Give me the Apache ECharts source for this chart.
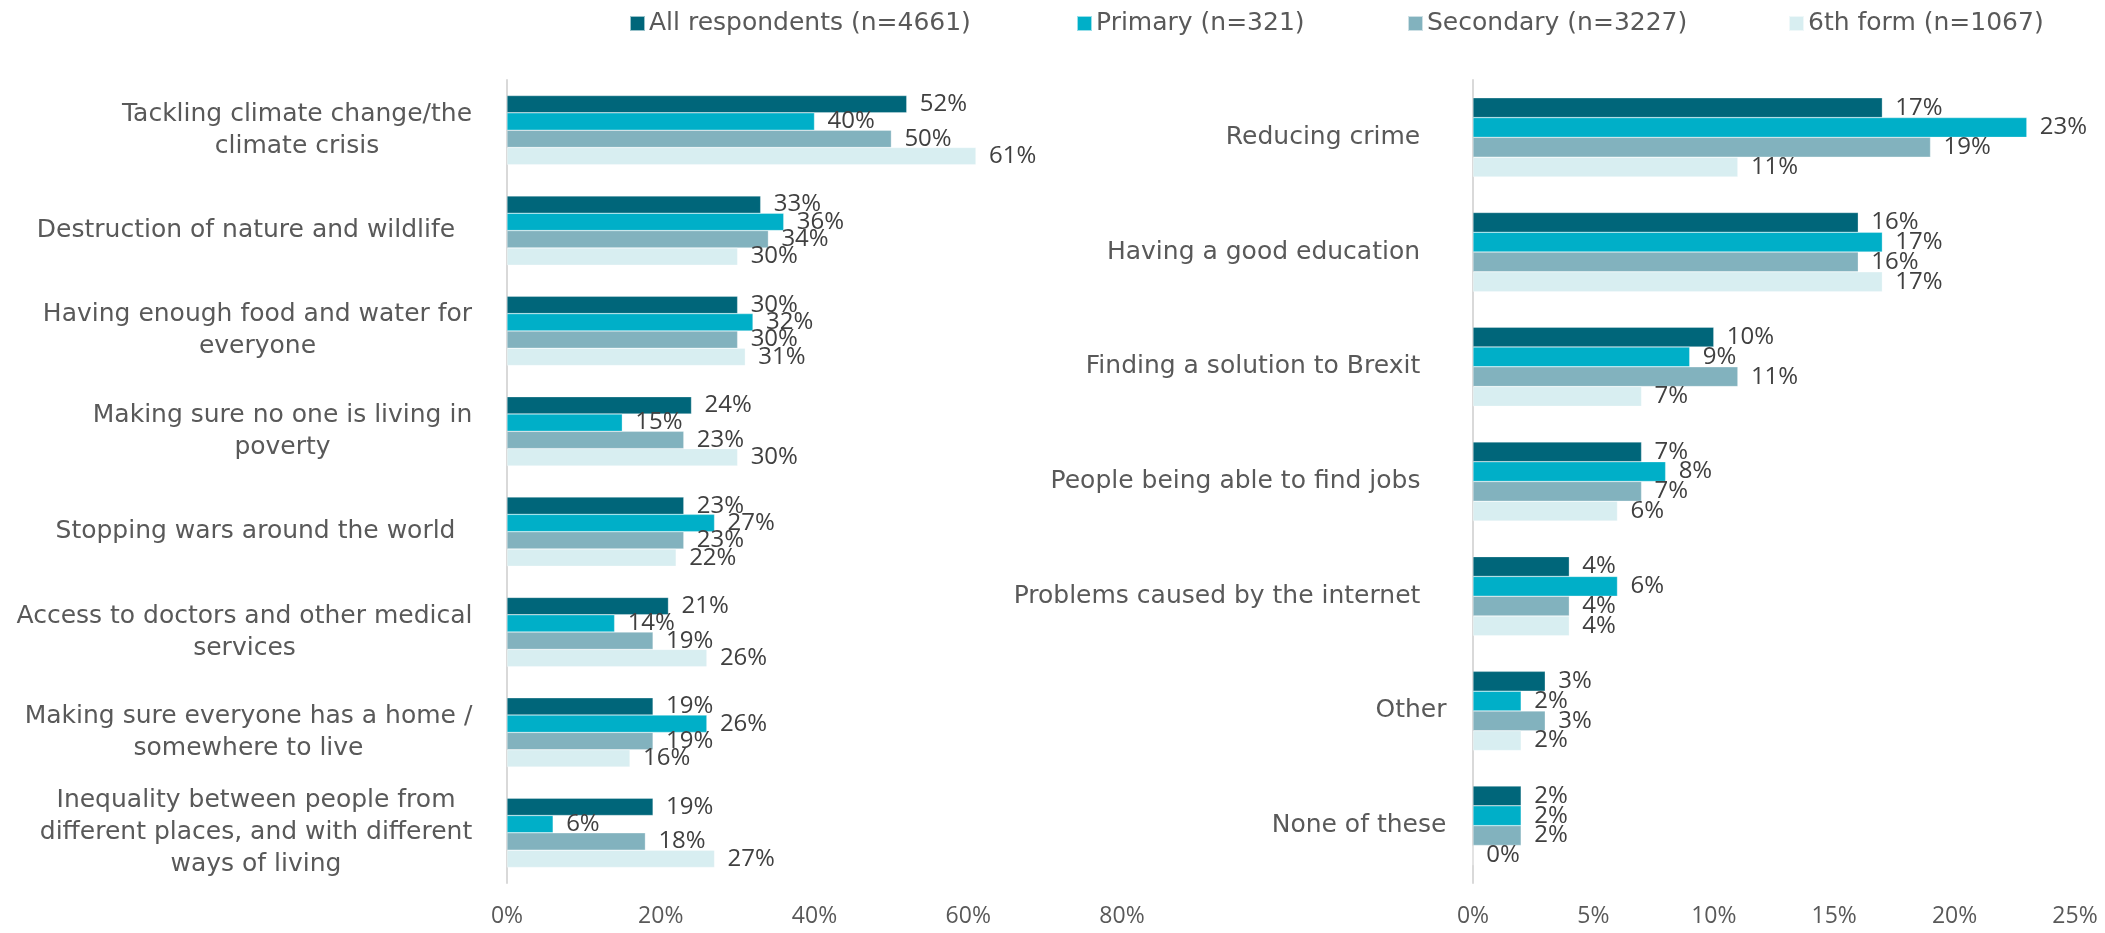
<!DOCTYPE html>
<html>
<head>
<meta charset="utf-8">
<script src="https://cdn.jsdelivr.net/npm/echarts@6/dist/echarts.min.js"></script>
<style>
  html, body { margin: 0; padding: 0; background: #fff; }
  #chart { width: 2105px; height: 933px; }
</style>
</head>
<body>
<div id="chart"></div>
<script>
// series names
const seriesNames = ['All respondents (n=4661)', 'Primary (n=321)', 'Secondary (n=3227)', '6th form (n=1067)']

// left panel
const leftCategories = [
  'Tackling climate change/the\nclimate crisis',
  'Destruction of nature and wildlife',
  'Having enough food and water for\neveryone',
  'Making sure no one is living in\npoverty',
  'Stopping wars around the world',
  'Access to doctors and other medical\nservices',
  'Making sure everyone has a home /\nsomewhere to live',
  'Inequality between people from\ndifferent places, and with different\nways of living'
]
const leftAll = [52, 33, 30, 24, 23, 21, 19, 19]
const leftPrimary = [40, 36, 32, 15, 27, 14, 26, 6]
const leftSecondary = [50, 34, 30, 23, 23, 19, 19, 18]
const leftSixth = [61, 30, 31, 30, 22, 26, 16, 27]
const leftTicks = [0, 20, 40, 60, 80]

// right panel
const rightCategories = [
  'Reducing crime',
  'Having a good education',
  'Finding a solution to Brexit',
  'People being able to find jobs',
  'Problems caused by the internet',
  'Other',
  'None of these'
]
const rightAll = [17, 16, 10, 7, 4, 3, 2]
const rightPrimary = [23, 17, 9, 8, 6, 2, 2]
const rightSecondary = [19, 16, 11, 7, 4, 3, 2]
const rightSixth = [11, 17, 7, 6, 4, 2, 0]
const rightTicks = [0, 5, 10, 15, 20, 25]

// styling
const colors = ['#00667a', '#00afc8', '#82b2be', '#d8eef1']
const FONT = 'DejaVu Sans'
const NUMFONT = 'Open Sans'
const FS = 25
const leftGaps = [0, 17, 0, 0, 17, 0, 0, 0]
const rightGaps = [0, 0, 0, 0, 0, -26, -26]

let ctx = document.createElement('canvas').getContext('2d')
ctx.font = FS + 'px "' + FONT + '"'
function measure (t) {
  return ctx.measureText(t).width
}

function buildRich (names, gaps, prefix) {
  let rich = {}
  names.forEach((n, i) => {
    let w = Math.ceil(Math.max(...n.split('\n').map(measure))) + 1
    rich[prefix + i] = {
      width: w,
      align: 'center',
      padding: [0, Math.max(gaps[i], 0), 0, 0],
      fontFamily: FONT,
      fontSize: FS,
      lineHeight: 32,
      color: '#595959'
    }
  })
  return rich
}

function labelFormatter (prefix) {
  return (value, index) => value.split('\n').map(l => '{' + prefix + index + '|' + l + '}').join('\n')
}

function makeSeries (data, idx, xi) {
  return {
    name: seriesNames[idx],
    type: 'bar',
    xAxisIndex: xi,
    yAxisIndex: xi,
    data: data,
    barGap: 0,
    barCategoryGap: '31%',
    itemStyle: { color: colors[idx], borderColor: 'rgba(255,255,255,0.6)', borderWidth: 0.5 },
    label: {
      show: true,
      position: 'right',
      distance: 13,
      formatter: '{c}%',
      color: '#404040',
      fontFamily: NUMFONT,
      fontSize: 24
    }
  }
}

let legendLefts = [624, 1071, 1402, 1783]

let myChart = echarts.init(document.getElementById('chart'), null, { renderer: 'canvas' })
let option = {
  animation: false,
  color: colors,
  legend: seriesNames.map((name, i) => ({
    data: [name],
    left: legendLefts[i],
    top: 6,
    icon: 'rect',
    itemWidth: 15,
    itemHeight: 15,
    itemGap: 0,
    textStyle: { fontFamily: FONT, fontSize: FS, color: '#595959', padding: [0, 0, 0, -1] }
  })),
  grid: [
    { left: 507, right: 983, top: 80, bottom: 50 },
    { left: 1473, right: 30, top: 80, bottom: 50 }
  ],
  xAxis: [
    {
      gridIndex: 0,
      type: 'value',
      min: leftTicks[0],
      max: leftTicks[leftTicks.length - 1],
      interval: leftTicks[1] - leftTicks[0],
      splitLine: { show: false },
      axisLine: { show: false },
      axisTick: { show: false },
      axisLabel: { formatter: '{value}%', margin: 22, fontFamily: NUMFONT, fontSize: 23, color: '#595959' }
    },
    {
      gridIndex: 1,
      type: 'value',
      min: rightTicks[0],
      max: rightTicks[rightTicks.length - 1],
      interval: rightTicks[1] - rightTicks[0],
      splitLine: { show: false },
      axisLine: { show: false },
      axisTick: { show: false },
      axisLabel: { formatter: '{value}%', margin: 22, fontFamily: NUMFONT, fontSize: 23, color: '#595959' }
    }
  ],
  yAxis: [
    {
      gridIndex: 0,
      type: 'category',
      inverse: true,
      data: leftCategories,
      axisLine: { lineStyle: { color: '#d9d9d9', width: 2 } },
      axisTick: { show: false },
      axisLabel: {
        interval: 0,
        margin: 34,
        formatter: labelFormatter('l'),
        rich: buildRich(leftCategories, leftGaps, 'l')
      }
    },
    {
      gridIndex: 1,
      type: 'category',
      inverse: true,
      data: rightCategories,
      axisLine: { lineStyle: { color: '#d9d9d9', width: 2 } },
      axisTick: { show: false },
      axisLabel: {
        interval: 0,
        margin: 26,
        formatter: labelFormatter('r'),
        rich: buildRich(rightCategories, rightGaps.map(g => g + 26), 'r')
      }
    }
  ],
  series: [
    makeSeries(leftAll, 0, 0),
    makeSeries(leftPrimary, 1, 0),
    makeSeries(leftSecondary, 2, 0),
    makeSeries(leftSixth, 3, 0),
    makeSeries(rightAll, 0, 1),
    makeSeries(rightPrimary, 1, 1),
    makeSeries(rightSecondary, 2, 1),
    makeSeries(rightSixth, 3, 1)
  ]
}
myChart.setOption(option)
</script>
</body>
</html>
